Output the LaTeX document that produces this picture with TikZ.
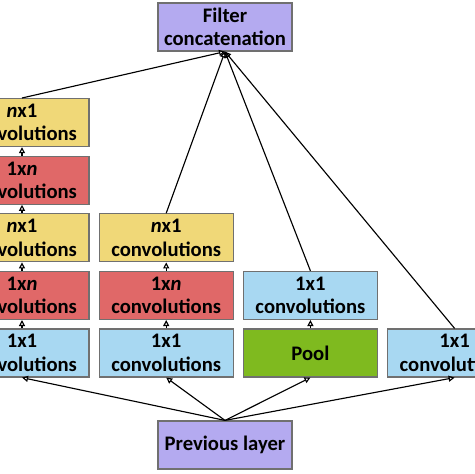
\documentclass[tikz,border=0pt]{standalone}
\usepackage{fontspec}
\setmainfont{Carlito}
\usetikzlibrary{arrows.meta,positioning}
\definecolor{boxedge}{HTML}{707070}
\definecolor{layerpurple}{HTML}{B4AAF0}
\definecolor{convblue}{HTML}{A8D8F2}
\definecolor{convred}{HTML}{E06868}
\definecolor{convyellow}{HTML}{F0D878}
\definecolor{poolgreen}{HTML}{7FBA1F}
\tikzset{
  convbox/.style={draw=boxedge,line width=0.9pt,align=center,
    font=\fontsize{15.5}{17.5}\selectfont\bfseries,
    minimum width=100.5pt,minimum height=36pt,inner sep=1pt},
  flowarrow/.style={-{Triangle[open,length=4.5pt,width=4.5pt]},line width=0.85pt,draw=black}
}

\begin{document}
\begin{tikzpicture}[x=0.75pt,y=-0.75pt,node distance=6.3pt and 6.75pt]
\useasboundingbox (0,0) rectangle (474,474);
\node[convbox,fill=layerpurple] (prev) at (225,445) {Previous layer};
\node[convbox,fill=layerpurple] (concat) at (225,27) {Filter\\concatenation};
% bottom row
\node[convbox,fill=convblue] (deep1) at (22,353) {1x1\\convolutions};
\node[convbox,fill=convblue,right=of deep1] (mid1) {1x1\\convolutions};
\node[convbox,fill=poolgreen,right=of mid1] (pool) {Pool};
\node[convbox,fill=convblue,right=of pool] (single) {1x1\\convolutions};
% stacked columns
\node[convbox,fill=convred,above=of deep1] (deep2) {1x\textit{n}\\convolutions};
\node[convbox,fill=convyellow,above=of deep2] (deep3) {\textit{n}x1\\convolutions};
\node[convbox,fill=convred,above=of deep3] (deep4) {1x\textit{n}\\convolutions};
\node[convbox,fill=convyellow,above=of deep4] (deep5) {\textit{n}x1\\convolutions};
\node[convbox,fill=convred,above=of mid1] (mid2) {1x\textit{n}\\convolutions};
\node[convbox,fill=convyellow,above=of mid2] (mid3) {\textit{n}x1\\convolutions};
\node[convbox,fill=convblue,above=of pool] (poolproj) {1x1\\convolutions};
% from previous layer
\foreach \b in {deep1,mid1,pool,single}
  \draw[flowarrow] (prev.north) -- (\b.south);
% inside the columns
\draw[flowarrow] (deep1) -- (deep2);
\draw[flowarrow] (deep2) -- (deep3);
\draw[flowarrow] (deep3) -- (deep4);
\draw[flowarrow] (deep4) -- (deep5);
\draw[flowarrow] (mid1) -- (mid2);
\draw[flowarrow] (mid2) -- (mid3);
\draw[flowarrow] (pool) -- (poolproj);
% into the concatenation
\foreach \t in {deep5,mid3,poolproj,single}
  \draw[flowarrow] (\t.north) -- (concat.south);
\end{tikzpicture}
\end{document}
